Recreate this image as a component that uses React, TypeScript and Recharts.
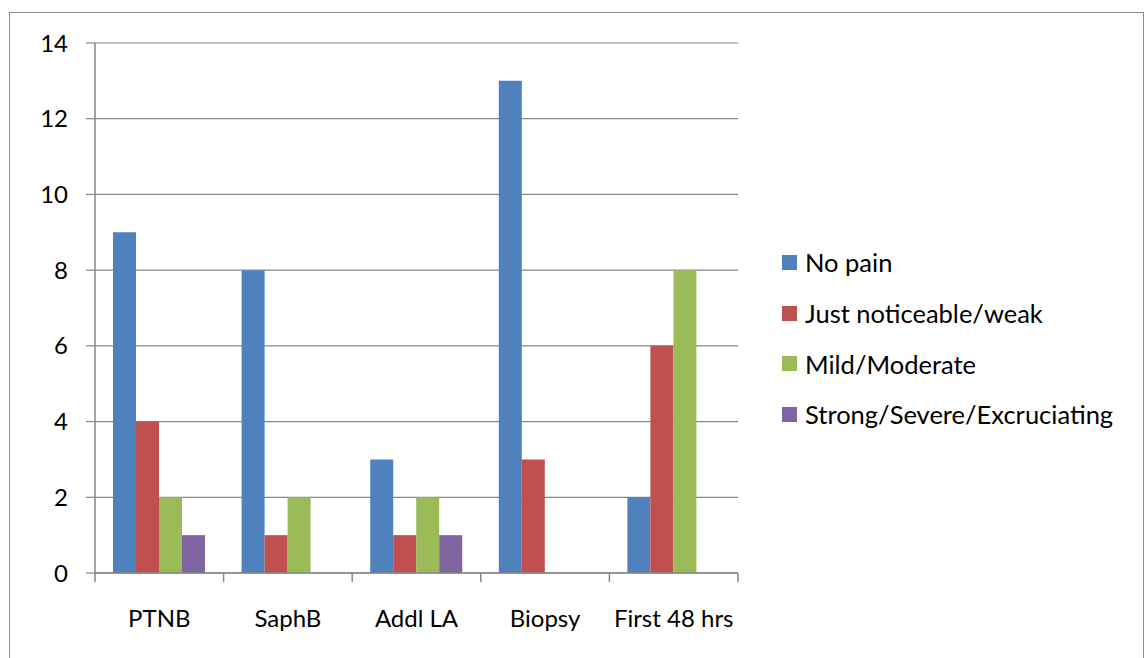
import React from 'react';
import { BarChart, Bar, XAxis, YAxis, CartesianGrid } from 'recharts';

const categories = ['PTNB', 'SaphB', 'Addl LA', 'Biopsy', 'First 48 hrs'];
const noPain = [9, 8, 3, 13, 2];
const justNoticeable = [4, 1, 1, 3, 6];
const mildModerate = [2, 2, 2, 0, 8];
const strongSevere = [1, 0, 1, 0, 0];
const yTicks = [0, 2, 4, 6, 8, 10, 12, 14];

const seriesDefs = [
  { key: 'noPain', name: 'No pain', color: '#4F81BD' },
  { key: 'just', name: 'Just noticeable/weak', color: '#C0504D' },
  { key: 'mild', name: 'Mild/Moderate', color: '#9BBB59' },
  { key: 'strong', name: 'Strong/Severe/Excruciating', color: '#8064A2' },
];

const data = categories.map((c, i) => ({
  name: c,
  noPain: noPain[i],
  just: justNoticeable[i],
  mild: mildModerate[i],
  strong: strongSevere[i],
}));

const FONT = 'Lato, "Open Sans", sans-serif';
const AXIS = '#868686';
const TICK_SIZE = 9;
const TICK_MARGIN = 28;

const LegendBlock = () => (
  <div style={{ position: 'absolute', left: 782, top: 237, width: 360, fontFamily: FONT }}>
    {seriesDefs.map((s) => (
      <div key={s.key} style={{ display: 'flex', alignItems: 'center', height: 50.7 }}>
        <div style={{ width: 15, height: 15, background: s.color, marginRight: 8 }} />
        <span style={{ fontSize: 25.5, color: '#000', whiteSpace: 'nowrap' }}>{s.name}</span>
      </div>
    ))}
  </div>
);

const CategoryTick = (props: any) => {
  const { x, y, payload, width, visibleTicksCount, index } = props;
  const band = width / visibleTicksCount;
  const axisY = y - TICK_SIZE - TICK_MARGIN;
  const left = x - band / 2;
  const right = x + band / 2;
  return (
    <g>
      <line x1={left} x2={left} y1={axisY} y2={axisY + TICK_SIZE} stroke={AXIS} strokeWidth={1.5} />
      {index === visibleTicksCount - 1 && (
        <line x1={right} x2={right} y1={axisY} y2={axisY + TICK_SIZE} stroke={AXIS} strokeWidth={1.5} />
      )}
      <text x={x} y={y} dy="0.71em" textAnchor="middle" fill="#000" fontSize={24} fontFamily={FONT}>
        {payload.value}
      </text>
    </g>
  );
};

export default function App() {
  return (
    <div style={{ position: 'absolute', left: 0, top: 0, width: 1146, height: 658, background: '#fff', overflow: 'hidden', fontFamily: FONT }}>
      <div style={{ position: 'absolute', left: 9, top: 12, width: 1133, height: 700, border: '1px solid #8c8c8c' }} />
      <BarChart
        width={1146}
        height={658}
        data={data}
        margin={{ top: 43, right: 408, bottom: 0, left: 0 }}
        barCategoryGap={18}
        barGap={0}
        style={{ position: 'absolute', left: 0, top: 0 }}
      >
        <CartesianGrid horizontal vertical={false} stroke={AXIS} strokeWidth={1.2} />
        <XAxis
          dataKey="name"
          axisLine={{ stroke: AXIS, strokeWidth: 1.5 }}
          tickLine={false}
          tickSize={TICK_SIZE}
          tickMargin={TICK_MARGIN}
          height={85}
          interval={0}
          tick={<CategoryTick />}
        />
        <YAxis
          domain={[0, 14]}
          ticks={yTicks}
          width={95}
          tickSize={9}
          tickMargin={18}
          axisLine={{ stroke: AXIS, strokeWidth: 1.5 }}
          tickLine={{ stroke: AXIS, strokeWidth: 1.2 }}
          tick={{ fill: '#000', fontSize: 24, fontFamily: FONT }}
        />
        {seriesDefs.map((s) => (
          <Bar key={s.key} dataKey={s.key} name={s.name} fill={s.color} isAnimationActive={false} />
        ))}
      </BarChart>
      <LegendBlock />
    </div>
  );
}
